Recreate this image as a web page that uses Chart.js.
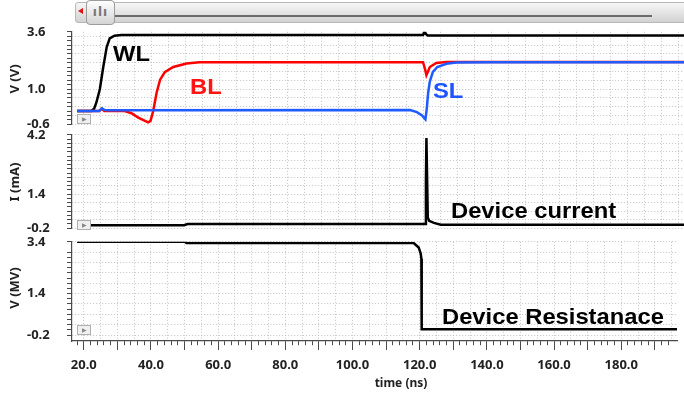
<!DOCTYPE html>
<html>
<head>
<meta charset="utf-8">
<script src="https://cdn.jsdelivr.net/npm/chart.js@4.4.1/dist/chart.umd.min.js"></script>
<style>
  body { margin: 0; background: #fff; }
  #wrap { position: relative; width: 684px; height: 395px; overflow: hidden; background: #fff; font-family: "Noto Sans", sans-serif; }
  canvas { position: absolute; left: 0; }
  .ytitle { position: absolute; left: 14px; transform: translate(-50%, -50%) rotate(-90deg); font: bold 13px "Noto Sans", sans-serif; color: #222; white-space: nowrap; }
  .xtitle { position: absolute; transform: translate(-50%, -50%); font: bold 12px "Noto Sans", sans-serif; color: #222; white-space: nowrap; }
  .note { position: absolute; font: bold 22px "Liberation Sans", Arial, sans-serif; line-height: 1; transform: scaleX(1.08); transform-origin: 0 0; white-space: nowrap; }
  .icon { position: absolute; left: 77px; width: 12px; height: 8px; border: 1px solid #b0b0b0; background: #f0f0f0; font-size: 6px; line-height: 8px; color: #888; text-align: center; }
  #sb { position: absolute; left: 75px; top: 2px; width: 620px; height: 19px; border: 1px solid #b8b8b8; border-radius: 3px; background: linear-gradient(#f6f6f6, #e4e4e4 50%, #d2d2d2); }
  #track { position: absolute; left: 113px; top: 15px; width: 539px; height: 2px; background: #6a6a6a; }
  #thumb { position: absolute; left: 86px; top: 0px; width: 27px; height: 23px; border: 1px solid #9c9c9c; border-radius: 4px; background: linear-gradient(#fefefe, #d4d4d4); font: bold 12px "DejaVu Sans", sans-serif; color: #777; text-align: center; line-height: 22px; letter-spacing: 1px; }
  #arrow { position: absolute; left: 78px; top: 8px; width: 0; height: 0; border-top: 3px solid transparent; border-bottom: 3px solid transparent; border-right: 5px solid #e01010; }
</style>
</head>
<body>
<div id="wrap">
  <div id="sb"></div>
  <div id="track"></div>
  <div id="arrow"></div>
  <div id="thumb">ılı</div>

  <canvas id="c1" width="684" height="114" style="top:21px"></canvas>
  <canvas id="c2" width="684" height="115" style="top:124px"></canvas>
  <canvas id="c3" width="684" height="164" style="top:231px"></canvas>

  <div class="ytitle" style="top:79px">V (V)</div>
  <div class="ytitle" style="top:182px">I (mA)</div>
  <div class="ytitle" style="top:288px">V (MV)</div>
  <div class="xtitle" style="left:401px; top:382px">time (ns)</div>

  <div class="icon" style="top:114px">&#9654;</div>
  <div class="icon" style="top:220px">&#9654;</div>
  <div class="icon" style="top:325px">&#9654;</div>

  <div class="note" style="left:113px; top:43px; color:#000">WL</div>
  <div class="note" style="left:190px; top:76px; color:#ff1414">BL</div>
  <div class="note" style="left:433px; top:80px; color:#1f55ff">SL</div>
  <div class="note" style="left:451px; top:200px; color:#000">Device current</div>
  <div class="note" style="left:442px; top:306px; color:#000">Device Resistanace</div>
</div>

<script>
// time axis (ns)
const xMin = 16.5;
const xMax = 196.6;
const xTickLabels = [20, 40, 60, 80, 100, 120, 140, 160, 180];

// panel 1: V (V)
const tWL = [18, 22.2, 23, 23.7, 24.7, 25.7, 26.7, 27.6, 29, 31, 119.8, 120.3, 120.6, 121.2, 196.6];
const vWL = [0, 0, 0.1, 0.4, 1.0, 2.0, 2.9, 3.3, 3.42, 3.45, 3.45, 3.65, 3.5, 3.43, 3.43];
const tBL = [18, 24.5, 25.3, 26, 32, 34, 36, 38.9, 39.6, 40.4, 41.4, 42.4, 43.8, 46.3, 50.2, 54, 119.8, 120.4, 120.8, 121.8, 123.7, 126.7, 196.6];
const vBL = [0, 0, 0.1, 0, 0, -0.1, -0.3, -0.52, -0.45, 0, 0.83, 1.41, 1.77, 2.0, 2.16, 2.22, 2.22, 1.9, 1.63, 2.0, 2.18, 2.23, 2.23];
const tSL = [18, 24.5, 25.3, 26, 27, 116, 118, 119.5, 120.5, 120.9, 121.3, 121.8, 122.7, 124, 126.7, 129.6, 140, 196.6];
const vSL = [0, 0, 0.12, 0.05, 0.03, 0.04, -0.05, -0.2, -0.38, 0.1, 0.82, 1.34, 1.78, 2.0, 2.15, 2.2, 2.22, 2.22];
const yLabels1 = [3.6, 1.0, -0.6];

// panel 2: I (mA)
const tI = [18, 49.5, 50.5, 120.5, 120.65, 120.8, 121.2, 121.6, 123, 125, 196.6];
const vI = [-0.06, -0.06, 0.0, 0.0, 2.0, 4.05, 0.3, 0.15, 0.05, -0.04, -0.04];
const yLabels2 = [4.2, 1.4, -0.2];

// panel 3: V (MV)
const tR = [18, 50, 50.6, 118.2, 119.7, 120.3, 120.5, 120.6, 196.6];
const vR = [3.4, 3.4, 3.35, 3.35, 3.18, 2.95, 2.75, 0.02, 0.02];
const yLabels3 = [3.4, 1.4, -0.2];

const AXIS = "#4a4a4a";
const GRID = "#c2c2c2";
const TEXT = "#222";
const tickFont = { family: "Noto Sans", size: 13, weight: "bold" };

function pts(ts, vs) {
  return ts.map((t, i) => ({ x: t, y: vs[i] }));
}

function near(a, b) {
  return Math.abs(a - b) < 1e-6;
}

function onStep(v, lo, step) {
  const k = (v - lo) / step;
  return Math.abs(k - Math.round(k)) < 1e-6;
}

function isInt(v) {
  return Math.abs(v - Math.round(v)) < 1e-6;
}

function line(data, color, order) {
  return {
    data: data,
    borderColor: color,
    borderWidth: 2.5,
    pointRadius: 0,
    fill: false,
    tension: 0,
    order: order
  };
}

function xScale(showAxis) {
  return {
    type: "linear",
    min: xMin,
    max: xMax,
    afterFit: s => { s.height = showAxis ? 54 : 0; },
    ticks: {
      display: showAxis,
      stepSize: 1,
      autoSkip: false,
      maxRotation: 0,
      padding: 7,
      color: TEXT,
      font: tickFont,
      callback: v => xTickLabels.some(l => near(l, v)) ? v.toFixed(1) : ""
    },
    grid: {
      drawTicks: showAxis,
      tickLength: 9,
      color: c => (c.tick && isInt(c.tick.value) && Math.round(c.tick.value) % 5 === 0) ? GRID : "transparent",
      tickColor: c => (c.tick && isInt(c.tick.value) && Math.round(c.tick.value) % 2 === 0 && c.tick.value >= 18) ? AXIS : "transparent",
      tickBorderDash: c => (c.tick && Math.round(c.tick.value) % 10 === 0) ? [] : [4, 40],
      tickWidth: 1
    },
    border: { display: showAxis, color: AXIS, width: 1.2, dash: [1, 2] }
  };
}

function yScale(min, max, lo, labels) {
  return {
    type: "linear",
    min: min,
    max: max,
    afterFit: s => { s.width = 45; },
    ticks: {
      stepSize: 0.2,
      autoSkip: false,
      crossAlign: "far",
      color: TEXT,
      font: tickFont,
      callback: v => labels.some(l => near(l, v)) ? v.toFixed(1) : ""
    },
    grid: {
      drawTicks: true,
      tickLength: 5,
      color: c => (c.tick && c.tick.value >= lo - 1e-6 && onStep(c.tick.value, lo, 0.4)) ? GRID : "transparent",
      tickColor: c => (c.tick && c.tick.value >= lo - 1e-6) ? AXIS : "transparent"
    },
    border: { display: true, color: AXIS, width: 1.2, dash: [1, 2] }
  };
}

function panel(id, datasets, yMin, yMax, lo, labels, showX) {
  return new Chart(document.getElementById(id), {
    type: "line",
    data: { datasets: datasets },
    options: {
      responsive: false,
      animation: false,
      layout: { padding: { left: 27, right: 0, top: 10, bottom: showX ? 0 : 10 } },
      plugins: { legend: { display: false }, tooltip: { enabled: false } },
      scales: {
        x: xScale(showX),
        y: yScale(yMin, yMax, lo, labels)
      }
    }
  });
}

panel("c1", [
  line(pts(tSL, vSL), "#1f5bff", 0),
  line(pts(tBL, vBL), "#ff0000", 1),
  line(pts(tWL, vWL), "#000000", 2)
], -0.6, 3.6, -0.6, yLabels1, false);

panel("c2", [
  line(pts(tI, vI), "#000000", 0)
], -0.2, 4.2, -0.2, yLabels2, false);

panel("c3", [
  line(pts(tR, vR), "#000000", 0)
], -0.43, 3.4, -0.2, yLabels3, true);
</script>
</body>
</html>
